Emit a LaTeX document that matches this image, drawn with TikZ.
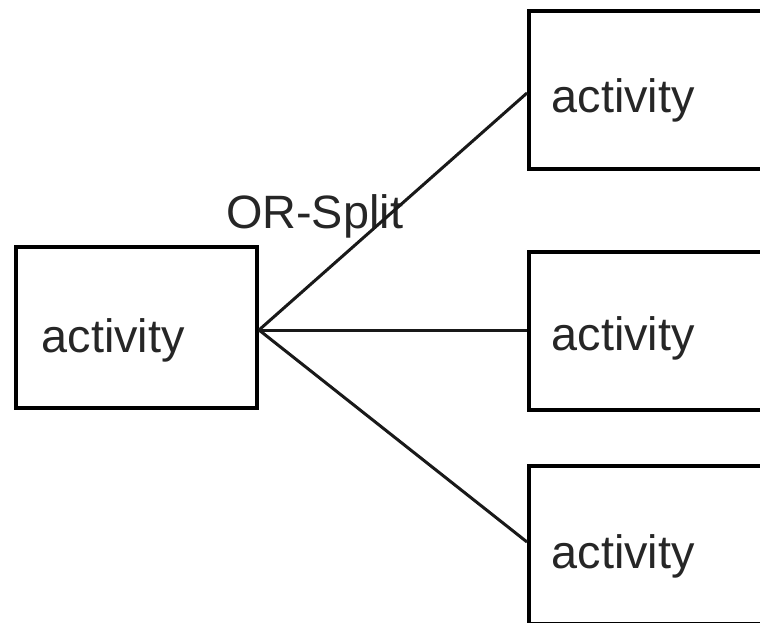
\documentclass[tikz,border=0pt]{standalone}
\usepackage{fontspec}
\setmainfont{Liberation Sans}
\begin{document}
\begin{tikzpicture}[x=1pt,y=-1pt,
  actbox/.style={draw=black,line width=4pt,rectangle,inner sep=0pt,
    minimum width=243pt,minimum height=158pt},
  acttext/.style={anchor=base west,inner sep=0pt,text=black!85,
    font=\fontsize{46.8}{56}\selectfont},
  link/.style={draw=black!90,line width=3pt}]
\useasboundingbox (0,0) rectangle (760,623);
\clip (0,0) rectangle (760,623);

% source activity
\node[actbox,minimum width=241pt,minimum height=161pt] (src) at (136.5,327.5) {};
\node[acttext] (srct) at (41.5,352) {activity};

% target activities
\node[actbox] (top) at (650.5,90) {};
\node[acttext] (topt) at (551.5,113) {activity};
\node[actbox] (mid) at (650.5,331) {};
\node[acttext] (midt) at (551.5,350) {activity};
\node[actbox] (bot) at (650.5,545) {};
\node[acttext] (bott) at (551.5,568) {activity};

% split label
\node[acttext] (lbl) at (226,228) {OR-Split};

% connectors
\coordinate (fork) at ([yshift=-2.5pt]src.east);
\draw[link] (fork) -- ([yshift=-3pt]top.west);
\draw[link] (fork) -- ([yshift=1pt]mid.west);
\draw[link] (fork) -- ([yshift=3pt]bot.west);
\end{tikzpicture}
\end{document}
